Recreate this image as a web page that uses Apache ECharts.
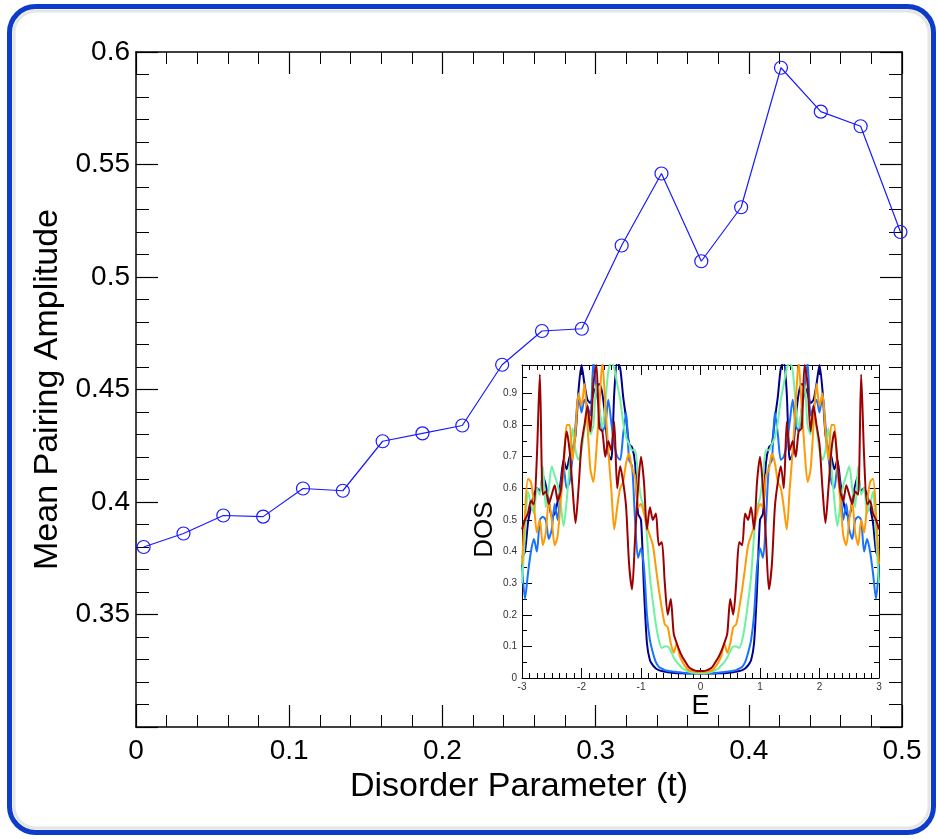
<!DOCTYPE html>
<html>
<head>
<meta charset="utf-8">
<script src="https://cdn.jsdelivr.net/npm/echarts@6/dist/echarts.min.js"></script>
<style>
html,body{margin:0;padding:0;background:#fff;}
#chart{width:937px;height:839px;}
</style>
</head>
<body>
<div id="chart"></div>
<script>
// ---- main plot data ----
const disorderT = [0.005, 0.031, 0.057, 0.083, 0.109, 0.135, 0.161, 0.187, 0.213, 0.239, 0.265, 0.291, 0.317, 0.343, 0.369, 0.395, 0.421, 0.447, 0.473, 0.499];
const pairingAmp = [0.380, 0.386, 0.394, 0.3935, 0.406, 0.405, 0.427, 0.4305, 0.434, 0.461, 0.476, 0.477, 0.514, 0.546, 0.507, 0.531, 0.593, 0.5735, 0.567, 0.520];

// ---- inset (DOS) data ----
const energy = [-3,-2.95,-2.9,-2.85,-2.8,-2.75,-2.7,-2.65,-2.6,-2.55,-2.5,-2.45,-2.4,-2.35,-2.3,-2.25,-2.2,-2.15,-2.1,-2.05,-2,-1.95,-1.9,-1.85,-1.8,-1.75,-1.7,-1.65,-1.6,-1.55,-1.5,-1.45,-1.4,-1.35,-1.3,-1.25,-1.2,-1.15,-1.1,-1.05,-1,-0.95,-0.9,-0.85,-0.8,-0.75,-0.7,-0.65,-0.6,-0.55,-0.5,-0.45,-0.4,-0.35,-0.3,-0.25,-0.2,-0.15,-0.1,-0.05,0,0.05,0.1,0.15,0.2,0.25,0.3,0.35,0.4,0.45,0.5,0.55,0.6,0.65,0.7,0.75,0.8,0.85,0.9,0.95,1,1.05,1.1,1.15,1.2,1.25,1.3,1.35,1.4,1.45,1.5,1.55,1.6,1.65,1.7,1.75,1.8,1.85,1.9,1.95,2,2.05,2.1,2.15,2.2,2.25,2.3,2.35,2.4,2.45,2.5,2.55,2.6,2.65,2.7,2.75,2.8,2.85,2.9,2.95,3];

const dosNavy = [0.38,0.4,0.49,0.54,0.58,0.6,0.59,0.64,0.61,0.56,0.51,0.52,0.56,0.62,0.69,0.66,0.7,0.72,0.77,0.91,0.99,0.93,0.88,0.87,0.9,0.92,0.93,0.9,0.82,0.71,0.69,0.9,1.0,0.98,0.89,0.82,0.74,0.73,0.68,0.52,0.5,0.28,0.11,0.056,0.04,0.03,0.025,0.022,0.02,0.018,0.017,0.016,0.015,0.015,0.015,0.014,0.014,0.014,0.014,0.014,
  0.014,0.014,0.014,0.014,0.014,0.014,0.015,0.015,0.015,0.016,0.017,0.018,0.02,0.022,0.025,0.03,0.04,0.056,0.11,0.28,0.5,0.52,0.68,0.73,0.74,0.82,0.89,0.98,1.0,0.9,0.69,0.71,0.82,0.9,0.93,0.92,0.9,0.87,0.88,0.93,0.99,0.91,0.77,0.72,0.7,0.66,0.69,0.62,0.56,0.52,0.51,0.56,0.61,0.64,0.59,0.6,0.58,0.54,0.49,0.4,0.38];

const dosBlue = [0.36,0.25,0.33,0.4,0.44,0.4,0.5,0.51,0.5,0.44,0.47,0.55,0.5,0.6,0.67,0.6,0.62,0.7,0.8,0.9,0.84,0.88,0.86,0.83,1.0,0.91,0.85,0.78,0.8,0.88,0.81,0.74,0.7,0.69,0.77,0.84,0.69,0.67,0.5,0.38,0.41,0.35,0.2,0.12,0.08,0.05,0.035,0.03,0.025,0.023,0.021,0.02,0.019,0.018,0.017,0.016,0.016,0.015,0.015,0.015,
  0.015,0.015,0.015,0.015,0.016,0.016,0.017,0.018,0.019,0.02,0.021,0.023,0.025,0.03,0.035,0.05,0.08,0.12,0.2,0.35,0.41,0.38,0.5,0.67,0.69,0.84,0.77,0.69,0.7,0.74,0.81,0.88,0.8,0.78,0.85,0.91,1.0,0.83,0.86,0.88,0.84,0.9,0.8,0.7,0.62,0.6,0.67,0.6,0.5,0.55,0.47,0.44,0.5,0.51,0.5,0.4,0.44,0.4,0.33,0.25,0.36];

const dosGreen = [0.3,0.45,0.59,0.55,0.52,0.6,0.58,0.67,0.54,0.6,0.67,0.64,0.61,0.55,0.48,0.56,0.67,0.79,0.72,0.69,0.72,0.79,0.85,0.77,0.8,0.93,0.85,0.79,0.87,0.97,1.0,0.98,0.93,0.88,0.81,0.76,0.74,0.72,0.72,0.64,0.57,0.54,0.45,0.32,0.24,0.17,0.12,0.095,0.1,0.1,0.085,0.065,0.05,0.04,0.03,0.025,0.02,0.017,0.016,0.015,
  0.015,0.015,0.016,0.017,0.02,0.025,0.03,0.04,0.05,0.065,0.085,0.1,0.1,0.095,0.12,0.17,0.24,0.32,0.45,0.54,0.57,0.64,0.72,0.72,0.74,0.76,0.81,0.88,0.93,0.98,1.0,0.97,0.87,0.79,0.85,0.93,0.8,0.77,0.85,0.79,0.72,0.69,0.72,0.79,0.67,0.56,0.48,0.55,0.61,0.64,0.67,0.6,0.54,0.67,0.58,0.6,0.52,0.55,0.59,0.45,0.3];

const dosOrange = [0.36,0.52,0.63,0.62,0.55,0.46,0.5,0.42,0.46,0.56,0.5,0.42,0.45,0.56,0.66,0.8,0.8,0.69,0.78,0.9,0.86,0.93,0.8,0.66,0.62,0.72,0.86,1.0,0.87,0.72,0.6,0.47,0.54,0.6,0.62,0.68,0.71,0.66,0.64,0.54,0.55,0.52,0.48,0.45,0.42,0.35,0.28,0.22,0.17,0.16,0.11,0.08,0.11,0.07,0.05,0.035,0.025,0.022,0.02,0.02,
  0.02,0.02,0.02,0.022,0.025,0.035,0.05,0.07,0.11,0.08,0.11,0.16,0.17,0.22,0.28,0.35,0.42,0.45,0.48,0.52,0.55,0.54,0.64,0.66,0.71,0.68,0.62,0.6,0.54,0.47,0.6,0.72,0.87,1.0,0.86,0.72,0.62,0.66,0.8,0.93,0.86,0.9,0.78,0.69,0.8,0.8,0.66,0.56,0.45,0.42,0.5,0.56,0.46,0.42,0.5,0.46,0.55,0.62,0.63,0.52,0.36];

const dosRed = [0.47,0.5,0.52,0.56,0.55,0.7,0.96,0.58,0.59,0.55,0.58,0.61,0.56,0.59,0.69,0.78,0.72,0.6,0.49,0.6,0.74,0.8,0.86,0.78,0.93,0.99,0.79,0.78,0.7,0.75,0.72,0.81,0.6,0.67,0.62,0.54,0.36,0.28,0.44,0.6,0.7,0.62,0.47,0.54,0.5,0.52,0.42,0.43,0.3,0.2,0.25,0.14,0.11,0.085,0.065,0.05,0.035,0.028,0.024,0.022,
  0.022,0.022,0.024,0.028,0.035,0.05,0.065,0.085,0.11,0.14,0.25,0.2,0.3,0.43,0.42,0.52,0.5,0.54,0.47,0.62,0.7,0.6,0.44,0.28,0.36,0.54,0.62,0.67,0.6,0.81,0.72,0.75,0.7,0.78,0.79,0.99,0.93,0.78,0.86,0.8,0.74,0.6,0.49,0.6,0.72,0.78,0.69,0.59,0.56,0.61,0.58,0.55,0.59,0.58,0.96,0.7,0.55,0.56,0.52,0.5,0.47];

const mainXTicks = {min: 0, max: 0.5, interval: 0.1};
const mainYTicks = {min: 0.3, max: 0.6, interval: 0.05};
const insetXTicks = {min: -3, max: 3, interval: 1};
const insetYTicks = {min: 0, max: 0.99, interval: 0.1};

const FONT = 'Liberation Sans, Arial, sans-serif';
const pair = (xs, ys) => xs.map((x, i) => [x, ys[i]]);

const chart = echarts.init(document.getElementById('chart'), null, {renderer: 'canvas'});

const mainAxisLine = {show: true, onZero: false, lineStyle: {color: '#000', width: 1.5}};
const mainTick = {show: true, inside: true, length: 22, lineStyle: {color: '#000', width: 1.2}};
const mainMinorX = {show: true, splitNumber: 5, length: 12, lineStyle: {color: '#000', width: 1}};
const mainMinorY = {show: true, splitNumber: 5, length: 13, lineStyle: {color: '#000', width: 1}};
const insAxisLine = {show: true, onZero: false, lineStyle: {color: '#000', width: 1}};
const insTick = {show: true, inside: true, length: 10, lineStyle: {color: '#000', width: 1}};
const insMinorX = {show: true, splitNumber: 8, length: 5, lineStyle: {color: '#000', width: 1}};
const insMinorY = {show: true, splitNumber: 2, length: 5, lineStyle: {color: '#000', width: 1}};

const dosColors = ['#00008c', '#1672ff', '#6ef2a2', '#ff9a05', '#9c0000'];
const dosSets = [dosNavy, dosBlue, dosGreen, dosOrange, dosRed];

const option = {
  animation: false,
  backgroundColor: '#ffffff',
  graphic: [
    {type: 'rect', z: -20, silent: true,
     shape: {x: 9.5, y: 6.5, width: 924, height: 826, r: 26},
     style: {fill: '#ffffff', stroke: '#0c3cc9', lineWidth: 5}},
    {type: 'rect', z: -19, silent: true,
     shape: {x: 14, y: 11, width: 915, height: 817, r: 22},
     style: {fill: 'none', stroke: 'rgba(0,0,0,0.10)', lineWidth: 3}}
  ],
  grid: [
    {left: 136, top: 52, width: 766, height: 675},
    {left: 522, top: 365, width: 357, height: 313, show: true, backgroundColor: '#ffffff', borderWidth: 0}
  ],
  xAxis: [
    {gridIndex: 0, type: 'value', position: 'bottom', min: mainXTicks.min, max: mainXTicks.max, interval: mainXTicks.interval,
     axisLine: mainAxisLine, axisTick: mainTick, minorTick: mainMinorX, splitLine: {show: false},
     axisLabel: {fontSize: 28, color: '#000', fontFamily: FONT, margin: 10, formatter: v => String(+v.toFixed(2))},
     name: 'Disorder Parameter (t)', nameLocation: 'middle', nameGap: 39,
     nameTextStyle: {fontSize: 34, color: '#000', fontFamily: FONT}},
    {gridIndex: 0, type: 'value', position: 'top', min: mainXTicks.min, max: mainXTicks.max, interval: mainXTicks.interval,
     axisLine: mainAxisLine, axisTick: mainTick, minorTick: mainMinorX, splitLine: {show: false},
     axisLabel: {show: false}},
    {gridIndex: 1, type: 'value', position: 'bottom', min: insetXTicks.min, max: insetXTicks.max, interval: insetXTicks.interval,
     axisLine: insAxisLine, axisTick: insTick, minorTick: insMinorX, splitLine: {show: false},
     axisLabel: {fontSize: 10, color: '#333', fontFamily: FONT, margin: 4},
     name: 'E', nameLocation: 'middle', nameGap: 15,
     nameTextStyle: {fontSize: 27, color: '#000', fontFamily: FONT}},
    {gridIndex: 1, type: 'value', position: 'top', min: insetXTicks.min, max: insetXTicks.max, interval: insetXTicks.interval,
     axisLine: insAxisLine, axisTick: insTick, minorTick: insMinorX, splitLine: {show: false},
     axisLabel: {show: false}}
  ],
  yAxis: [
    {gridIndex: 0, type: 'value', position: 'left', min: mainYTicks.min, max: mainYTicks.max, interval: mainYTicks.interval,
     axisLine: mainAxisLine, axisTick: mainTick, minorTick: mainMinorY, splitLine: {show: false},
     axisLabel: {fontSize: 28, color: '#000', fontFamily: FONT, margin: 6,
       formatter: v => (Math.abs(v - 0.3) < 1e-6 ? '' : String(+v.toFixed(2)))},
     name: 'Mean Pairing Amplitude', nameLocation: 'middle', nameGap: 68, nameRotate: 90,
     nameTextStyle: {fontSize: 34, color: '#000', fontFamily: FONT}},
    {gridIndex: 0, type: 'value', position: 'right', min: mainYTicks.min, max: mainYTicks.max, interval: mainYTicks.interval,
     axisLine: mainAxisLine, axisTick: mainTick, minorTick: mainMinorY, splitLine: {show: false},
     axisLabel: {show: false}},
    {gridIndex: 1, type: 'value', position: 'left', min: insetYTicks.min, max: insetYTicks.max, interval: insetYTicks.interval,
     axisLine: insAxisLine, axisTick: insTick, minorTick: insMinorY, splitLine: {show: false},
     axisLabel: {fontSize: 10, color: '#333', fontFamily: FONT, margin: 5,
       formatter: v => { const r = Math.round(v * 10) / 10; return Math.abs(v - r) < 1e-6 ? String(r) : ''; }},
     name: 'DOS', nameLocation: 'middle', nameGap: 24, nameRotate: 90,
     nameTextStyle: {fontSize: 26, color: '#000', fontFamily: FONT, padding: [0, 16, 0, 0]}},
    {gridIndex: 1, type: 'value', position: 'right', min: insetYTicks.min, max: insetYTicks.max, interval: insetYTicks.interval,
     axisLine: insAxisLine, axisTick: insTick, minorTick: insMinorY, splitLine: {show: false},
     axisLabel: {show: false}}
  ],
  series: [
    {type: 'line', xAxisIndex: 0, yAxisIndex: 0, data: pair(disorderT, pairingAmp),
     symbol: 'circle', symbolSize: 13,
     lineStyle: {color: '#1a1aff', width: 1.2},
     itemStyle: {color: 'rgba(0,0,0,0)', borderColor: '#1a1aff', borderWidth: 1.2}}
  ].concat(dosSets.map((d, i) => ({
     type: 'line', xAxisIndex: 2, yAxisIndex: 2, data: pair(energy, d),
     showSymbol: false, smooth: 0.25, clip: true, z: 3 + i,
     lineStyle: {color: dosColors[i], width: 2}
  })))
};
chart.setOption(option);
</script>
</body>
</html>
